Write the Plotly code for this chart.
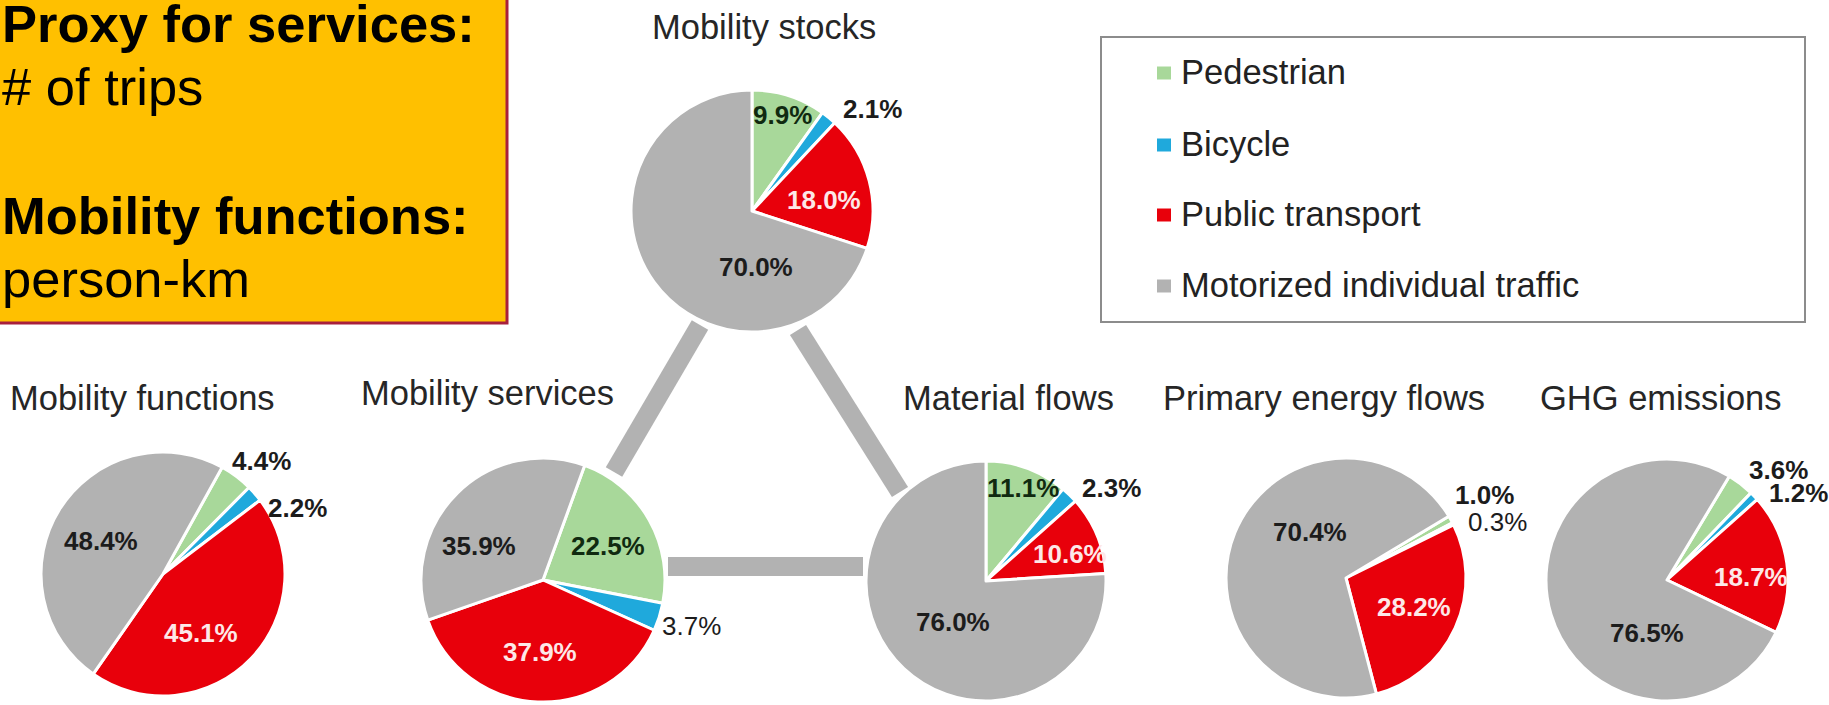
import plotly.graph_objects as go

W, H = 1829, 705
FONT = "Liberation Sans, Arial, sans-serif"

# ---- data -------------------------------------------------------------
CATEGORIES = ["Pedestrian", "Bicycle", "Public transport", "Motorized individual traffic"]

stocks = [9.9, 2.1, 18.0, 70.0]
functions = [4.4, 2.2, 45.1, 48.4]
services = [22.5, 3.7, 37.9, 35.9]
material = [11.1, 2.3, 10.6, 76.0]
energy = [1.0, 0.3, 28.2, 70.4]
ghg = [3.6, 1.2, 18.7, 76.5]

PIE_TITLES = ["Mobility stocks", "Mobility functions", "Mobility services",
              "Material flows", "Primary energy flows", "GHG emissions"]
PIE_VALUES = [stocks, functions, services, material, energy, ghg]

# ---- styling ----------------------------------------------------------
COLORS = ["#a8d89a", "#1fa9dc", "#e8000b", "#b2b2b2"]
TEXT_DARK = "#1c1c1c"
TEXT_ON_GREEN = "#102a10"
TEXT_ON_RED = "#fde8e8"

# centre (px), radius (px), start angle (deg, clockwise from 12 o'clock),
# title centre x and baseline y (px)
PIE_LAYOUT = [
    dict(c=(752, 211), r=121, rot=0,  title=(764, 39)),
    dict(c=(163, 574), r=122, rot=29, title=(142, 410)),
    dict(c=(543, 580), r=122, rot=20, title=(488, 405)),
    dict(c=(986, 581), r=120, rot=0,  title=(1008, 410)),
    dict(c=(1346, 578), r=120, rot=59, title=(1324, 410)),
    dict(c=(1667, 580), r=121, rot=31, title=(1661, 410)),
]

# label placement relative to each pie centre (px), per category,
# and whether the label sits inside its slice
LABEL_OFFSETS = [
    [(30, -96), (120, -102), (72, -11), (4, 56)],
    [(98, -113), (134, -66), (38, 59), (-62, -33)],
    [(65, -34), (148, 46), (-3, 72), (-64, -34)],
    [(37, -93), (125, -93), (84, -27), (-33, 41)],
    [(138, -83), (151, -56), (68, 29), (-36, -46)],
    [(111, -110), (131, -87), (84, -3), (-20, 53)],
]
INSIDE_GREEN = {(0, 0), (2, 0), (3, 0)}
REGULAR_LABELS = {(2, 1), (4, 1)}


def px(x):
    return x / W


def py(y):
    return 1 - y / H


def label_color(i, k):
    if k == 2:
        return TEXT_ON_RED
    if (i, k) in INSIDE_GREEN:
        return TEXT_ON_GREEN
    return TEXT_DARK


fig = go.Figure()
annotations = []
shapes = []

# connectors between stocks, services and material flows
CONNECTORS = [((700, 325), (614, 472)), ((798, 330), (900, 492)), ((668, 566.5), (863, 566.5))]
for (x0, y0), (x1, y1) in CONNECTORS:
    shapes.append(dict(type="line", xref="paper", yref="paper",
                       x0=px(x0), y0=py(y0), x1=px(x1), y1=py(y1),
                       line=dict(color="#b2b2b2", width=19), layer="below"))

for i, (title, vals, lay) in enumerate(zip(PIE_TITLES, PIE_VALUES, PIE_LAYOUT)):
    cx, cy = lay["c"]
    r = lay["r"]
    fig.add_trace(go.Pie(
        labels=CATEGORIES, values=vals, sort=False, direction="clockwise",
        rotation=lay["rot"], textinfo="none", hoverinfo="label+value",
        marker=dict(colors=COLORS, line=dict(color="white", width=3)),
        domain=dict(x=[px(cx - r), px(cx + r)], y=[py(cy + r), py(cy - r)]),
        showlegend=False, name=title,
    ))
    tx, tb = lay["title"]
    annotations.append(dict(
        text=title, x=px(tx), y=py(tb - 0.3465 * 34.5), xref="paper", yref="paper",
        xanchor="center", yanchor="middle", showarrow=False,
        font=dict(family=FONT, size=34.5, color="#262626")))
    for k, v in enumerate(vals):
        dx, dy = LABEL_OFFSETS[i][k]
        annotations.append(dict(
            text=f"{v:.1f}%", x=px(cx + dx), y=py(cy + dy), xref="paper", yref="paper",
            xanchor="center", yanchor="middle", showarrow=False,
            font=dict(family=FONT, size=26, color=label_color(i, k),
                      weight="normal" if (i, k) in REGULAR_LABELS else "bold")))

# info box in the top-left corner
shapes.append(dict(type="rect", xref="paper", yref="paper",
                   x0=px(-3), y0=py(-3), x1=px(507), y1=py(323),
                   fillcolor="#ffc000", line=dict(color="#a8203c", width=3), layer="below"))
BOX_FONT = 52.5
BOX_LINES = [("Proxy for services:", True, 41.7), ("# of trips", False, 105),
             ("Mobility functions:", True, 233.3), ("person-km", False, 296.7)]
for txt, bold, base in BOX_LINES:
    annotations.append(dict(
        text=txt, x=px(0), y=py(base - 0.3465 * BOX_FONT), xref="paper", yref="paper",
        xanchor="left", yanchor="middle", showarrow=False,
        font=dict(family=FONT, size=BOX_FONT, color="black",
                  weight="bold" if bold else "normal")))

# legend
shapes.append(dict(type="rect", xref="paper", yref="paper",
                   x0=px(1101), y0=py(37), x1=px(1805), y1=py(322),
                   fillcolor="white", line=dict(color="#8c8c8c", width=2), layer="below"))
LEGEND_ROWS = [72, 144, 214, 285]
for cat, col, yc in zip(CATEGORIES, COLORS, LEGEND_ROWS):
    shapes.append(dict(type="rect", xref="paper", yref="paper",
                       x0=px(1157), y0=py(yc + 7.5), x1=px(1171), y1=py(yc - 5.5),
                       fillcolor=col, line=dict(width=0), layer="above"))
    annotations.append(dict(
        text=cat, x=px(1179), y=py(yc), xref="paper", yref="paper",
        xanchor="left", yanchor="middle", showarrow=False,
        font=dict(family=FONT, size=34.5, color="#222222")))

fig.update_layout(
    width=W, height=H, margin=dict(l=0, r=0, t=0, b=0),
    paper_bgcolor="white", plot_bgcolor="white",
    annotations=annotations, shapes=shapes, showlegend=False,
)

fig.write_html("out.html", config={"displayModeBar": False})
